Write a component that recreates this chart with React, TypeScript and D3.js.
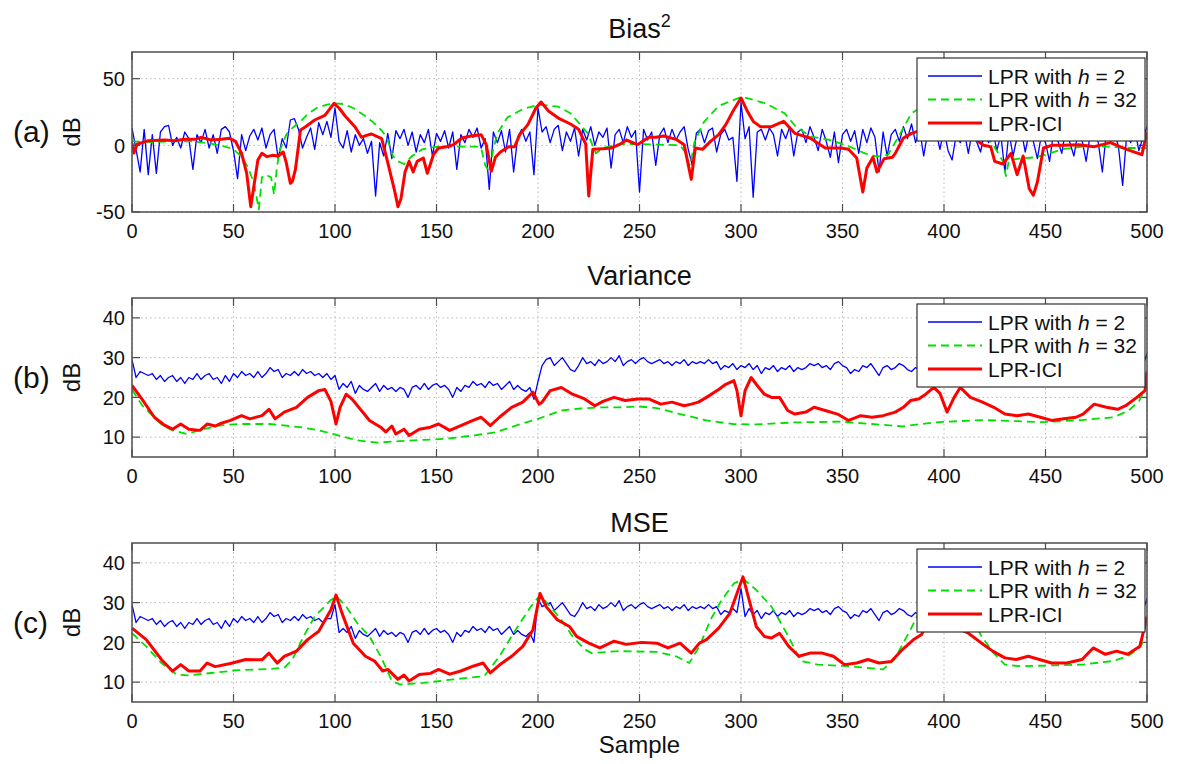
import * as d3 from "d3";

// tick labels
const xTicks = [0, 50, 100, 150, 200, 250, 300, 350, 400, 450, 500];
const biasTicks = [-50, 0, 50];
const dbTicks = [10, 20, 30, 40];

// blue series: one value every 2 samples (0, 2, ... 500)
const blueStep = 2;

const biasBlue = [
  13, -3, -20, 12, -22, 8, -21, 10, 14, 15,
  0, 6, -2, 10, 5, -18, 8, 2, 12, -2,
  8, -6, 12, 14, 10, -4, -25, 8, -4, 7,
  12, 4, 13, -2, 8, 12, -10, 5, -2, 19,
  20, 12, -2, 6, 13, -3, 17, 8, 18, 6,
  28, 3, -2, 11, -5, 8, 0, 5, -6, 3,
  -38, 2, -8, 9, -10, 11, 5, 12, 0, 10,
  -5, 8, 2, 12, -8, 9, 3, 11, -2, 10,
  -18, 8, 2, 12, 6, 13, -2, 5, -33, 10,
  2, 11, -5, 12, -20, 6, 12, 3, 10, -22,
  28, 10, 14, 2, 12, 15, -4, 10, 3, 13,
  -8, 12, 4, 14, 0, 10, 6, 13, -17, 8,
  12, 2, 14, 6, 11, -35, 12, 4, 10, -15,
  8, 13, 2, 12, 4, 10, 14, -3, -15, 9,
  12, 2, 11, 13, -5, 8, 12, 4, 6, -27,
  32, 5, 14, -39, 10, 12, 4, 13, 8, -8,
  12, 5, 14, -8, 10, 12, 2, 14, 6, -4,
  12, 3, -9, 10, -13, 8, 12, 3, 11, -6,
  12, 2, 13, 6, -20, 10, -8, 8, 12, 3,
  14, 5, 16, 2, 12, -8, 10, 4, 11, -3,
  12, -4, -11, 8, 2, 10, -6, 12, 3, -5,
  10, 2, 12, -4, 8, -20, 10, -8, 6, 12,
  -5, 10, 3, -10, 8, 2, -12, 10, 4, -6,
  12, 2, -8, 10, 4, -12, 8, 12, 2, -20,
  10, 3, 12, -2, -30, 8, 2, 12, -4, 6,
  14,
];

const biasGreen: [number, number][] = [
  [0, 3], [10, 2.5], [20, 3], [30, 3], [38, 1.5], [46, -1], [50, -3], [54, -8.5], [57, -16],
  [60, -28], [62.5, -48], [64, -24], [66, -22], [68.5, -24], [70, -37], [71.5, -15], [73, -3],
  [76, 8], [79, 13], [83, 18], [87, 24], [91, 28], [96, 30.5], [100, 31.5], [104, 31], [109, 28],
  [114, 23], [119, 17], [123, 11], [125.5, 6], [128.5, -8], [131, -12], [134, -14], [138, -8],
  [143, -3], [150, -1], [160, -1], [170, -1], [172, -2], [174, -15], [176, -20], [178, -3],
  [180, 9], [185, 21], [193, 27.5], [201, 30.5], [210, 29], [216, 24], [220, 17], [224.5, 9],
  [228.5, -6], [232, -2], [240, 1], [250, 1], [260, 0.5], [270, 0], [272.5, -5], [274, -13],
  [275, -15], [277, 2], [281.5, 17], [289, 29.5], [300.5, 36.5], [312, 31.5], [321.5, 24],
  [327, 14], [334.5, 6.5], [344, 4], [353.5, -1], [361, -6], [367, -8.5], [372.5, -7],
  [378.5, 9], [384, 24], [390, 30], [400, 33], [410, 28], [417, 18], [422, 5], [426, -4],
  [429, -12], [430.5, -23], [432, -11], [437, -10], [445, -9], [450, -7], [458, -3], [468, -1],
  [480, -1], [490, -2], [500, -2],
];

const biasRed: [number, number][] = [
  [0, 1.5], [1, -5.8], [2.5, 0.8], [8, 3.5], [16, 4], [21, 3.5], [26, 4.5], [31, 4.5], [34, 6],
  [39, 4], [44, 4.5], [48, 5.3], [51, 3], [54, -6], [56.5, -21], [58.5, -46], [60, -31],
  [62, -11], [64, -6], [66.5, -8.5], [69, -7.5], [72, -8], [74.5, -5], [76, -13], [78, -28.5],
  [79, -27], [80.5, -18], [83, 11.5], [85.5, 14], [90, 19], [95, 22.5], [99.5, 31.5], [102, 28],
  [105, 22], [110, 13.5], [113, 6], [115.5, 7.5], [118, 8.5], [123, 5], [126, -13],
  [129.5, -35], [131, -46], [132.5, -40], [134.5, -20], [136.5, -12], [138.5, -20],
  [140.5, -12], [143.5, -9.5], [145.5, -21], [148.5, -7], [151, -2], [155, -1], [158.5, 0.5],
  [162.5, 5.5], [167, 7], [172, 8], [174.5, 0.5], [177, -19.5], [179, -9], [181.5, -5],
  [185.5, -1], [188.5, -1], [191, 8], [195, 15.5], [199, 28], [201.5, 32.5], [205, 26],
  [210.5, 20], [216, 16], [220, 12], [223.5, 1], [225, -38], [227, -3], [232, -2.5], [236, -2],
  [240, 0.5], [243.5, 4], [249, 0.5], [254.5, 6], [258, 6], [262, 7], [268, 4.5], [272, 0.5],
  [275.5, -25.5], [277.5, -2], [281, -3], [285, 3], [289, 8], [292.5, 15.5], [296, 25.5],
  [300, 35.5], [303, 26], [306, 18], [309.5, 14], [315, 14], [321, 18], [326.5, 9],
  [334, 5.5], [341.5, -2], [349, -2], [353, -3], [357, -9.5], [360, -35], [362, -17],
  [365, -9], [367, -20], [370.5, -10], [374.5, -9], [376, -6], [380, 5.5], [384, 9], [388, 11],
  [393, 20], [397, 28], [400, 33], [404, 24], [409, 14], [414, 6], [419.5, 0], [423, -1],
  [425, -12], [429, -14], [433, -6], [436, -22], [439, -8], [442, -32.5], [444, -37.5],
  [446, -27.5], [449, -2], [453, 0], [459, 0], [466.5, 0.5], [474, -1], [482, 2], [490, -3],
  [497.5, -7], [500, 10],
];

const varianceBlue = [
  29.5, 25, 26.5, 26, 25.5, 26, 24.5, 25.5, 24, 25,
  25.5, 24, 25, 23.5, 25, 24.5, 26, 24.5, 25.5, 26,
  24.5, 25, 23.5, 25.5, 24, 26, 25, 26.5, 25.5, 26,
  25, 26.5, 25, 26, 27.5, 26.5, 27, 25, 26, 25.5,
  26.5, 25.5, 27, 26, 26.5, 25.5, 26, 25, 26, 24.5,
  25.5, 22, 23.5, 22.5, 24, 21, 23, 22, 21.5, 22.5,
  23.5, 21.5, 23, 22, 22.5, 21.5, 22.5, 22, 20, 22.5,
  23, 22, 23.5, 22, 23, 23.5, 22.5, 23, 22, 20,
  22.5, 21.5, 23, 22.5, 24, 23, 23.5, 22.5, 24, 23,
  23.5, 22, 23, 24, 22, 23, 22, 21.5, 22.5, 19.5,
  24, 28, 29.5, 30, 28, 29, 30, 28.5, 27, 26.5,
  28, 30, 28.5, 29, 28, 29.5, 28.5, 29, 30, 29,
  30.5, 28, 29, 29.5, 28.5, 29.5, 30, 29, 28.5, 29,
  29.5, 28.5, 29, 28, 29, 28.5, 29.5, 28, 29, 28.5,
  29, 28.5, 29.5, 28.5, 29, 27, 28, 27.5, 28.5, 27,
  28, 27.5, 28.5, 27, 28, 26, 27.5, 27, 28, 26.5,
  27.5, 27, 28, 26.5, 27.5, 27, 27.5, 28.5, 28, 28.5,
  27.5, 28, 27, 28.5, 29, 28, 27.5, 26, 27, 26.5,
  28, 27.5, 28.5, 27, 25.5, 27.5, 28, 27, 27.5, 28.5,
  28, 27, 26.5, 27.5, 27, 28, 27, 27.5, 26.5, 27.5,
  27, 28, 26.5, 27.5, 27, 28, 27.5, 26.5, 27.5, 27,
  28, 27.5, 27, 28, 26.5, 27.5, 27, 28, 27.5, 26.5,
  27.5, 27, 28, 27, 27.5, 26.5, 27.5, 27, 28, 27.5,
  26.5, 27.5, 27, 28, 27, 27.5, 26.5, 27.5, 28, 27,
  27.5, 26.5, 27.5, 27, 28, 27, 27.5, 26.5, 27.5, 28,
  31,
];

const varianceGreen: [number, number][] = [
  [0, 22], [5, 18], [10, 15.5], [15, 13], [20, 11.7], [27, 10.8], [35, 12], [43, 12.9],
  [52, 13.3], [68, 13.3], [83, 12.5], [92, 11.7], [102, 10.4], [111, 9.2], [121, 8.6],
  [132, 9], [143.5, 9.3], [155, 9.6], [168, 10.4], [179, 11.2], [189, 12.9], [200, 14.6],
  [211.5, 16.7], [221, 17.2], [230, 17.5], [240, 17.5], [250, 17.7], [258.5, 17.3],
  [270, 15.8], [283, 14.2], [296, 13.3], [307.5, 13.2], [326.5, 13.7], [349, 13.9],
  [364.5, 13.3], [379.5, 12.7], [395, 13.7], [418.5, 14.3], [436, 14], [449, 13.75],
  [468, 14.3], [483.5, 15], [491, 16.7], [496, 19], [500, 23],
];

const varianceRed: [number, number][] = [
  [0, 23], [5, 19.5], [11, 15], [16, 13], [20, 12], [24, 13.3], [28, 12], [33.5, 11.7],
  [37, 13.3], [41, 12.8], [44, 13.5], [48.5, 14.2], [54, 15.4], [58, 14.6], [64, 15.4],
  [67.5, 17], [70.5, 14.6], [75, 16.3], [81, 17.5], [86.5, 20], [92, 21.7], [95, 22], [98, 19],
  [100.5, 13.3], [102.5, 17.5], [105.5, 20.8], [108.5, 19.5], [113, 16.7], [117, 14.2],
  [122.5, 12.5], [125, 11.3], [128, 12.8], [130, 10.8], [134, 12], [136.5, 10.4],
  [141.5, 12], [147, 12.5], [151, 13.3], [156.5, 11.7], [162, 12.9], [168, 14.2], [172, 15],
  [176.5, 12.9], [181, 15], [187, 17.5], [192.5, 18.8], [197.5, 21.3], [200.5, 18.3],
  [202, 18.8], [206, 21.7], [211.5, 22.5], [217, 20.8], [223, 19.6], [228, 17.9], [232, 19],
  [237.5, 20], [243, 19.2], [249, 19.6], [254.5, 19.6], [260.5, 18.3], [266, 18.8],
  [272, 17.9], [275.5, 18.3], [279, 18.8], [283, 20], [289, 22], [292.5, 23.3], [296.5, 24.2],
  [298, 21.7], [300, 15.4], [302, 21.7], [305, 25], [307.5, 23.3], [311.5, 20.8], [315, 20],
  [319, 20], [323, 16.7], [326.5, 15.8], [332, 16.3], [336, 17.5], [341.5, 16.7],
  [347.5, 15.8], [353, 14.2], [359, 15.4], [364.5, 15], [370, 15.4], [376, 16.3], [380, 17.5],
  [383.5, 19.2], [387.5, 19.6], [391, 20.8], [395, 22.5], [398, 21], [401.5, 16.3], [405, 20],
  [408, 22.5], [413, 20], [419, 18.8], [424.5, 17.5], [430, 15.8], [436, 15.4], [441.5, 15.8],
  [447.5, 15], [453, 14.2], [459, 14.6], [465, 15], [468.5, 15.8], [474, 18.3], [480, 17.5],
  [485.5, 17], [489.5, 17.9], [495, 20], [499, 21.7], [500, 26.5],
];

const mseBlue = [
  29.5, 25, 26.5, 26, 25.5, 26, 24.5, 25.5, 24, 25,
  25.5, 24, 25, 23.5, 25, 24.5, 26, 24.5, 25.5, 26,
  24.5, 25, 23.5, 25.5, 24, 26, 25, 26.5, 25.5, 26,
  25, 26.5, 25, 26, 27.5, 26.5, 27, 25, 26, 25.5,
  26.5, 25.5, 27, 26, 26.5, 25.5, 26, 25, 26, 26,
  29.5, 22.5, 23.5, 22.5, 24, 21, 23, 22, 21.5, 22.5,
  23.5, 21.5, 23, 22, 22.5, 21.5, 22.5, 22, 20, 22.5,
  23, 22, 23.5, 22, 23, 23.5, 22.5, 23, 22, 20,
  22.5, 21.5, 23, 22.5, 24, 23, 23.5, 22.5, 24, 23,
  23.5, 22, 23, 24, 22, 23, 22, 21.5, 22.5, 20,
  31, 29, 29.5, 30, 28, 29, 30, 28.5, 27, 26.5,
  28, 30, 28.5, 29, 28, 29.5, 28.5, 29, 30, 29,
  30.5, 28, 29, 29.5, 28.5, 29.5, 30, 29, 28.5, 29,
  29.5, 28.5, 29, 28, 29, 28.5, 29.5, 28, 29, 28.5,
  29, 28.5, 29.5, 28.5, 29, 27, 28, 27.5, 28.5, 27.5,
  33.5, 26.5, 28.5, 27, 28, 26, 27.5, 27, 28, 26.5,
  27.5, 27, 28, 26.5, 27.5, 27, 27.5, 28.5, 28, 28.5,
  27.5, 28, 27, 28.5, 29, 28, 27.5, 26, 27, 26.5,
  28, 27.5, 28.5, 27, 25.5, 27.5, 28, 27, 27.5, 28.5,
  28, 27, 26.5, 27.5, 27, 28, 27, 27.5, 26.5, 27.5,
  27, 28, 26.5, 27.5, 27, 28, 27.5, 26.5, 27.5, 27,
  28, 27.5, 27, 28, 26.5, 27.5, 27, 28, 27.5, 26.5,
  27.5, 27, 28, 27, 27.5, 26.5, 27.5, 27, 28, 27.5,
  26.5, 27.5, 27, 28, 27, 27.5, 26.5, 27.5, 28, 27,
  27.5, 26.5, 27.5, 27, 28, 27, 27.5, 26.5, 27.5, 28,
  31,
];

const mseGreen: [number, number][] = [
  [0, 22.3], [7, 19], [14.5, 14.8], [22, 11.9], [28, 11.7], [39, 12.3], [52, 13], [67.5, 13.3],
  [75, 13.6], [79, 15.7], [84.5, 21.5], [90, 26.5], [98, 30.7], [101, 31.5], [105.5, 29],
  [111, 24.8], [117, 21.5], [122.5, 16.5], [128, 10.3], [132, 9.4], [143.5, 9.8],
  [158.5, 10.7], [173.5, 11.5], [181, 16.5], [189, 23.2], [196.5, 29], [201, 31.9], [206, 29],
  [211.5, 25.7], [217, 21.5], [223, 18.2], [226.5, 17.3], [239.5, 17.8], [258.5, 17.6],
  [268, 16.5], [274.5, 14.8], [279.5, 19], [285, 25.7], [290.5, 30.7], [296.5, 34.8],
  [301, 36], [307.5, 33.2], [315, 29], [322.5, 22.3], [329.5, 15.3], [338, 14.4], [353, 14],
  [370, 13.2], [375.5, 15.7], [383.5, 23.2], [390, 30], [400, 35], [410, 30], [418.5, 21.5],
  [424.5, 17.3], [430, 14.4], [437.5, 14], [453, 14.2], [468, 14.4], [483, 15.3],
  [490.5, 16.5], [496, 18.5], [500, 21.5],
];

const mseRed: [number, number][] = [
  [0, 23.6], [7, 20.7], [14.5, 15.7], [20, 12.75], [24, 14.4], [28, 12.8], [33.5, 12.8],
  [37, 14.8], [41, 13.9], [48.5, 14.7], [56, 15.7], [64, 15.6], [67.5, 17.3], [71.5, 14.8],
  [75, 16.5], [81, 17.8], [86.5, 20.7], [92, 22.8], [98, 28.2], [100.5, 31.9], [103.5, 27.3],
  [109, 19.8], [115, 16.5], [119.5, 15.3], [123.5, 12.8], [126, 13.2], [131, 10.7],
  [134, 11.8], [136.5, 10.3], [141.5, 11.9], [147, 12.2], [151, 13.2], [156.5, 12],
  [162, 12.8], [168, 14], [173, 14.8], [176.5, 12.3], [181, 14.3], [187, 16.5], [192.5, 19],
  [197.5, 23.2], [201, 32.3], [204, 29], [209.5, 25.7], [215.5, 24], [219, 21.5], [225, 19.8],
  [230.5, 18.6], [237.5, 20.3], [243.5, 19.5], [251, 20], [258.5, 19.8], [264, 18.6],
  [270, 19.8], [275.5, 17.3], [279.5, 19.8], [283, 20.7], [289, 23.6], [294.5, 27.3],
  [298, 32.3], [301, 36.5], [304, 30.7], [307.5, 24], [311.5, 21.5], [315, 21.1], [319, 22.3],
  [323.5, 19], [328.5, 16.5], [334, 17.3], [340, 17.3], [345.5, 16.5], [351, 14.4],
  [357, 14.8], [362.5, 15.7], [368, 14.8], [374, 15.2], [379.5, 18.2], [385, 20.7], [389, 22],
  [395, 28], [400, 33], [405, 27], [409, 23], [412, 22.3], [418.5, 19.8], [424, 17.8],
  [430, 16.1], [435.5, 15.7], [441.5, 16.5], [447, 15.7], [453, 14.8], [460.5, 14.8],
  [468, 15.7], [473.5, 18.6], [479.5, 17], [485, 17.8], [490.5, 17], [496.5, 19], [500, 26.5],
];

const legendItems = [
  { h: "2", label: null, color: "#0000ff", width: 1.4, dash: null },
  { h: "32", label: null, color: "#00e000", width: 1.8, dash: "8,5" },
  { h: null, label: "LPR-ICI", color: "#ff0000", width: 3, dash: null },
];

const FONT = "'Liberation Sans', Arial, Helvetica, sans-serif";
const LEFT = 132;
const RIGHT = 1147;
const FRAME = "#4d4d4d";
const LEG_W = 228;
const LEG_H = 83;

type Pt = [number, number];

function Panel({ tag, title, yDomain, yTicks, blue, green, red, top, bottom }: any) {
  const x = d3.scaleLinear().domain([0, 500]).range([LEFT, RIGHT]);
  const y = d3.scaleLinear().domain(yDomain).range([bottom, top]);
  const line = d3.line<Pt>().x((d) => x(d[0])).y((d) => y(d[1]));
  const bluePts: Pt[] = blue.map((v: number, i: number) => [i * blueStep, v]);
  const clipId = `clip-${tag}`;
  const midY = (top + bottom) / 2;
  const lx = RIGHT - 2 - LEG_W;
  const ly = top + 6;

  return (
    <g>
      <clipPath id={clipId}>
        <rect x={LEFT} y={top} width={RIGHT - LEFT} height={bottom - top} />
      </clipPath>

      {/* grid */}
      {xTicks.map((t) => (
        <line key={"gx" + t} x1={x(t)} x2={x(t)} y1={top} y2={bottom}
          stroke="#b8b8b8" strokeWidth={1} strokeDasharray="1.5,3" />
      ))}
      {yTicks.map((t: number) => (
        <line key={"gy" + t} x1={LEFT} x2={RIGHT} y1={y(t)} y2={y(t)}
          stroke="#b8b8b8" strokeWidth={1} strokeDasharray="1.5,3" />
      ))}

      {/* ticks, all four sides */}
      {xTicks.map((t) => (
        <g key={"tx" + t} stroke={FRAME} strokeWidth={1.2}>
          <line x1={x(t)} x2={x(t)} y1={bottom} y2={bottom - 8} />
          <line x1={x(t)} x2={x(t)} y1={top} y2={top + 8} />
        </g>
      ))}
      {yTicks.map((t: number) => (
        <g key={"ty" + t} stroke={FRAME} strokeWidth={1.2}>
          <line x1={LEFT} x2={LEFT + 8} y1={y(t)} y2={y(t)} />
          <line x1={RIGHT} x2={RIGHT - 8} y1={y(t)} y2={y(t)} />
        </g>
      ))}

      <g clipPath={`url(#${clipId})`} fill="none" strokeLinejoin="round">
        <path d={line(bluePts) ?? ""} stroke="#0000ff" strokeWidth={1.3} />
        <path d={line(green) ?? ""} stroke="#00e000" strokeWidth={1.8} strokeDasharray="8,5" />
        <path d={line(red) ?? ""} stroke="#ff0000" strokeWidth={3} />
      </g>

      <rect x={LEFT} y={top} width={RIGHT - LEFT} height={bottom - top}
        fill="none" stroke={FRAME} strokeWidth={1.5} />

      {/* tick labels */}
      {xTicks.map((t) => (
        <text key={"lx" + t} x={x(t)} y={bottom + 26} textAnchor="middle" fontSize={20} fill="#111">
          {t}
        </text>
      ))}
      {yTicks.map((t: number) => (
        <text key={"ly" + t} x={LEFT - 7} y={y(t)} dy="0.36em" textAnchor="end" fontSize={20} fill="#111">
          {t}
        </text>
      ))}

      {/* title and side labels */}
      {title}
      <text x={13} y={midY + 10} fontSize={30} fill="#111">({tag})</text>
      <text transform={`translate(80,${midY}) rotate(-90)`} textAnchor="middle" fontSize={24} fill="#111">
        dB
      </text>

      {/* legend */}
      <rect x={lx} y={ly} width={LEG_W} height={LEG_H} fill="#fff" stroke="#333" strokeWidth={1.2} />
      {legendItems.map((it, i) => {
        const ry = ly + 18 + i * 23.5;
        return (
          <g key={"lg" + i}>
            <line x1={lx + 11} x2={lx + 65} y1={ry} y2={ry} stroke={it.color}
              strokeWidth={it.width} strokeDasharray={it.dash ?? undefined} />
            <text x={lx + 71} y={ry} dy="0.36em" fontSize={21} fill="#111">
              {it.h !== null ? (
                <>
                  LPR with <tspan fontStyle="italic">h</tspan> = {it.h}
                </>
              ) : (
                it.label
              )}
            </text>
          </g>
        );
      })}
    </g>
  );
}

export default function App() {
  const cx = (LEFT + RIGHT) / 2;
  return (
    <svg width={1181} height={764} style={{ position: "absolute", left: 0, top: 0, background: "#fff" }}
      fontFamily={FONT}>
      <rect width={1181} height={764} fill="#fff" />
      <Panel
        tag="a"
        title={
          <text x={cx} y={38} textAnchor="middle" fontSize={27} fill="#111">
            Bias<tspan fontSize={18} dy={-11}>2</tspan>
          </text>
        }
        yDomain={[-50, 70]}
        yTicks={biasTicks}
        blue={biasBlue}
        green={biasGreen}
        red={biasRed}
        top={52}
        bottom={212}
      />
      <Panel
        tag="b"
        title={<text x={cx} y={285} textAnchor="middle" fontSize={27} fill="#111">Variance</text>}
        yDomain={[5, 45]}
        yTicks={dbTicks}
        blue={varianceBlue}
        green={varianceGreen}
        red={varianceRed}
        top={298}
        bottom={457}
      />
      <Panel
        tag="c"
        title={<text x={cx} y={532} textAnchor="middle" fontSize={27} fill="#111">MSE</text>}
        yDomain={[5, 45]}
        yTicks={dbTicks}
        blue={mseBlue}
        green={mseGreen}
        red={mseRed}
        top={543}
        bottom={702}
      />
      <text x={cx} y={753} textAnchor="middle" fontSize={24} fill="#111">Sample</text>
    </svg>
  );
}
